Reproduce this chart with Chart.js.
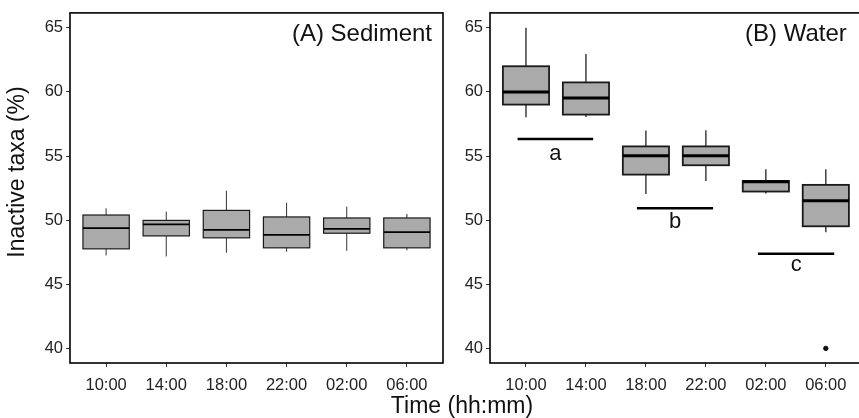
<!DOCTYPE html>
<html>
<head>
<meta charset="utf-8">
<script src="https://cdn.jsdelivr.net/npm/chart.js@4.4.1/dist/chart.umd.min.js"></script>
<style>
  html, body { margin: 0; padding: 0; background: #fff; overflow: hidden; }
  body { width: 859px; height: 418px; position: relative; }
  #left { position: absolute; left: 0; top: 0; }
  #right { position: absolute; left: 445px; top: 0; }
  #xtitle {
    position: absolute; left: 462px; top: 405px; transform: translate(-50%, -50%);
    font: 23px "Liberation Sans", Arial, sans-serif; color: #111; white-space: nowrap;
  }
</style>
</head>
<body>
<canvas id="left" width="445" height="418"></canvas>
<canvas id="right" width="420" height="418"></canvas>
<div id="xtitle">Time (hh:mm)</div>
<script>
// sampling times (x categories) and y ticks
const times = ['10:00', '14:00', '18:00', '22:00', '02:00', '06:00'];
const yTicks = [40, 45, 50, 55, 60, 65];

// (A) Sediment box stats
const sedMin = [47.25, 47.17, 47.46, 47.53, 47.61, 47.64];
const sedQ1 = [47.76, 48.77, 48.62, 47.84, 48.98, 47.84];
const sedMed = [49.37, 49.67, 49.24, 48.85, 49.32, 49.06];
const sedQ3 = [50.40, 49.98, 50.76, 50.25, 50.17, 50.17];
const sedMax = [50.92, 50.66, 52.29, 51.36, 51.05, 50.48];

// (B) Water box stats
const watMin = [58.02, 58.05, 52.03, 53.06, 52.08, 49.06];
const watQ1 = [59.01, 58.23, 53.55, 54.28, 52.23, 49.52];
const watMed = [59.99, 59.52, 55.03, 55.03, 53.00, 51.51];
const watQ3 = [62.00, 60.74, 55.75, 55.75, 53.06, 52.75];
const watMax = [65.00, 62.96, 56.99, 57.00, 53.97, 53.97];
const watOutX = [6];
const watOutY = [40.0];

// significance groups in (B)
const groupLabels = ['a', 'b', 'c'];
const groupFrom = [0.86, 2.85, 4.87];
const groupTo = [2.12, 4.12, 6.14];
const groupLineY = [56.32, 50.92, 47.38];
const groupTextY = [55.15, 49.83, 46.47];

const FONT = '"Liberation Sans", Arial, sans-serif';
const boxWidth = 0.77;

function boxPlugin(p) {
    return {
        id: 'boxes',
        beforeDatasetsDraw(chart) {
            const ctx = chart.ctx;
            const x = chart.scales.x, y = chart.scales.y;
            const half = (x.getPixelForValue(1 + boxWidth / 2) - x.getPixelForValue(1 - boxWidth / 2)) / 2;
            ctx.save();
            times.forEach((t, i) => {
                const cx = x.getPixelForValue(i + 1);
                // whiskers
                ctx.strokeStyle = '#333';
                ctx.lineWidth = p.whisker;
                ctx.beginPath();
                ctx.moveTo(cx, y.getPixelForValue(p.max[i]));
                ctx.lineTo(cx, y.getPixelForValue(p.q3[i]));
                ctx.moveTo(cx, y.getPixelForValue(p.q1[i]));
                ctx.lineTo(cx, y.getPixelForValue(p.min[i]));
                ctx.stroke();
                // box
                const top = y.getPixelForValue(p.q3[i]);
                const bot = y.getPixelForValue(p.q1[i]);
                ctx.fillStyle = '#aaaaaa';
                ctx.fillRect(cx - half, top, half * 2, bot - top);
                ctx.strokeStyle = '#1a1a1a';
                ctx.lineWidth = p.border;
                ctx.strokeRect(cx - half, top, half * 2, bot - top);
                // median
                const my = y.getPixelForValue(p.med[i]);
                ctx.lineWidth = p.median;
                ctx.strokeStyle = '#000';
                ctx.beginPath();
                ctx.moveTo(cx - half, my);
                ctx.lineTo(cx + half, my);
                ctx.stroke();
            });
            ctx.restore();
        },
        afterDraw(chart) {
            const ctx = chart.ctx;
            const x = chart.scales.x, y = chart.scales.y;
            const a = chart.chartArea;
            ctx.save();
            // group lines + letters
            if (p.groups) {
                groupLabels.forEach((g, i) => {
                    ctx.strokeStyle = '#000';
                    ctx.lineWidth = 2.5;
                    ctx.beginPath();
                    ctx.moveTo(x.getPixelForValue(groupFrom[i]), y.getPixelForValue(groupLineY[i]));
                    ctx.lineTo(x.getPixelForValue(groupTo[i]), y.getPixelForValue(groupLineY[i]));
                    ctx.stroke();
                    ctx.fillStyle = '#111';
                    ctx.font = '22px ' + FONT;
                    ctx.textAlign = 'center';
                    ctx.textBaseline = 'middle';
                    ctx.fillText(g, x.getPixelForValue((groupFrom[i] + groupTo[i]) / 2), y.getPixelForValue(groupTextY[i]));
                });
            }
            // panel label
            ctx.fillStyle = '#111';
            ctx.font = '24px ' + FONT;
            ctx.textAlign = 'right';
            ctx.textBaseline = 'middle';
            ctx.fillText(p.label, a.right - p.labelOff, 34);
            // frame
            ctx.strokeStyle = '#000';
            ctx.lineWidth = 1.6;
            ctx.strokeRect(a.left, a.top, a.right - a.left, a.bottom - a.top);
            // y title on left panel
            if (p.yTitle) {
                ctx.translate(18, 172);
                ctx.rotate(-Math.PI / 2);
                ctx.textAlign = 'center';
                ctx.font = '23px ' + FONT;
                ctx.fillText(p.yTitle, 0, 0);
            }
            ctx.restore();
        }
    };
}

function makePanel(id, p) {
    return new Chart(document.getElementById(id), {
        type: 'scatter',
        data: {
            datasets: [{
                data: (p.outX || []).map((v, i) => ({ x: v, y: p.outY[i] })),
                backgroundColor: '#111',
                borderColor: '#111',
                pointRadius: 2.2,
                pointHoverRadius: 2.2
            }]
        },
        options: {
            responsive: false,
            animation: false,
            events: [],
            layout: { padding: { top: 11, right: p.padRight, left: 0, bottom: 0 } },
            plugins: { legend: { display: false }, tooltip: { enabled: false } },
            scales: {
                x: {
                    type: 'linear',
                    min: 0.4,
                    max: 6.6,
                    afterBuildTicks: s => { s.ticks = times.map((t, i) => ({ value: i + 1 })); },
                    afterFit: s => { s.height = 55; },
                    grid: { drawOnChartArea: false, tickLength: 4, color: '#333', lineWidth: 1 },
                    border: { display: false },
                    ticks: {
                        padding: 9,
                        color: '#222',
                        font: { family: FONT, size: 16.5 },
                        maxRotation: 0,
                        callback: v => times[v - 1]
                    }
                },
                y: {
                    min: 38.86,
                    max: 66.16,
                    afterBuildTicks: s => { s.ticks = yTicks.map(v => ({ value: v })); },
                    afterFit: s => { s.width = p.yWidth; },
                    grid: { drawOnChartArea: false, tickLength: 4, color: '#333', lineWidth: 1 },
                    border: { display: false },
                    ticks: {
                        padding: 3,
                        color: '#222',
                        font: { family: FONT, size: 16.5 }
                    }
                }
            }
        },
        plugins: [boxPlugin(p)]
    });
}

makePanel('left', {
    min: sedMin, q1: sedQ1, med: sedMed, q3: sedQ3, max: sedMax,
    whisker: 1, border: 1.2, median: 1.8,
    label: '(A) Sediment', labelOff: 11,
    yTitle: 'Inactive taxa (%)',
    yWidth: 70, padRight: 2
});

makePanel('right', {
    min: watMin, q1: watQ1, med: watMed, q3: watQ3, max: watMax,
    outX: watOutX, outY: watOutY,
    whisker: 1.4, border: 1.8, median: 3,
    label: '(B) Water', labelOff: 15,
    groups: true,
    yWidth: 45, padRight: 1.6
});
</script>
</body>
</html>
